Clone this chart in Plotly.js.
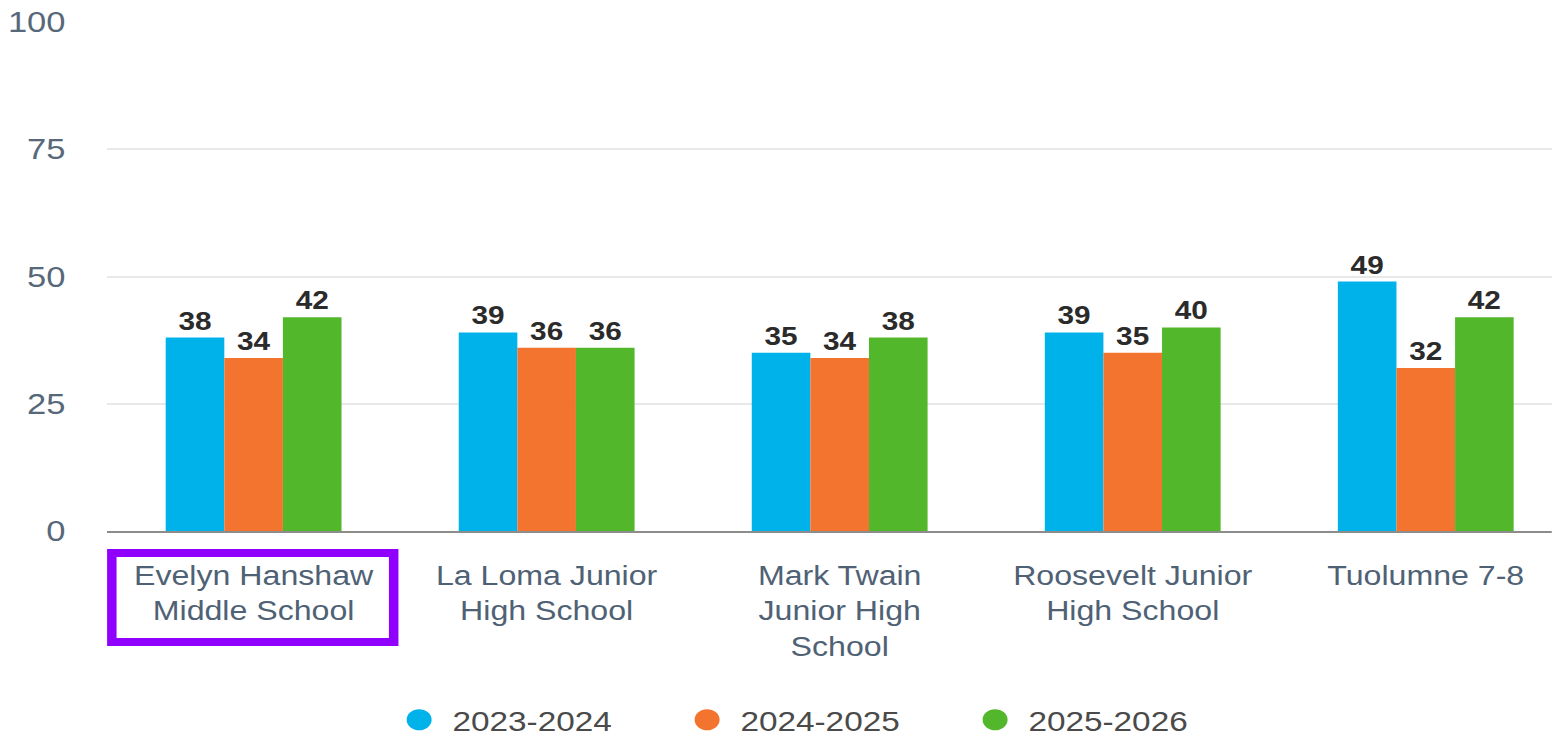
<!DOCTYPE html>
<html>
<head>
<meta charset="utf-8">
<script src="https://cdn.plot.ly/plotly-3.0.1.min.js"></script>
<style>
html,body{margin:0;padding:0;background:#fff;overflow:hidden;}
/* the reference picture is stretched horizontally by about 1.19 */
#chart{width:1304px;height:739px;transform:scaleX(1.19);transform-origin:0 0;}
</style>
</head>
<body>
<div id="chart"></div>
<script>
var categories = [
  "Evelyn Hanshaw<br>Middle School",
  "La Loma Junior<br>High School",
  "Mark Twain<br>Junior High<br>School",
  "Roosevelt Junior<br>High School",
  "Tuolumne 7-8"
];
var seriesNames = ["2023-2024", "2024-2025", "2025-2026"];
var values2023 = [38, 39, 35, 39, 49];
var values2024 = [34, 36, 34, 35, 32];
var values2025 = [42, 36, 38, 40, 42];
var yTicks = [0, 25, 50, 75, 100];

var colors = ["#00b2ea", "#f3742f", "#52b72b"];
var allValues = [values2023, values2024, values2025];
var FONT = '"Liberation Sans", Arial, Helvetica, sans-serif';

var traces = [];
allValues.forEach(function (vals, i) {
  traces.push({
    type: "bar",
    x: categories,
    y: vals,
    name: seriesNames[i],
    marker: {color: colors[i]},
    text: vals.map(String),
    textposition: "outside",
    cliponaxis: false,
    textfont: {family: FONT, size: 25, color: "#2b2b2b", weight: "bold"},
    showlegend: false,
    hoverinfo: "x+y"
  });
});
allValues.forEach(function (vals, i) {
  traces.push({
    type: "scatter",
    mode: "markers",
    x: [categories[0]],
    y: [null],
    name: seriesNames[i],
    marker: {color: colors[i], size: 16, symbol: "circle", line: {color: colors[i], width: 5}},
    showlegend: true,
    hoverinfo: "skip"
  });
});

var layout = {
  width: 1304,
  height: 739,
  margin: {l: 90, r: 0, t: 22, b: 208},
  paper_bgcolor: "#ffffff",
  plot_bgcolor: "#ffffff",
  barmode: "group",
  bargap: 0.4,
  bargroupgap: 0,
  font: {family: FONT, color: "#56687a"},
  xaxis: {
    type: "category",
    range: [-0.5, 4.43],
    showgrid: false,
    showline: true,
    linecolor: "#8c8c8c",
    linewidth: 2,
    ticks: "",
    tickfont: {family: FONT, size: 27, color: "#4f6275"},
    ticklabelstandoff: 20,
    fixedrange: true
  },
  yaxis: {
    range: [0, 100],
    tickvals: yTicks,
    ticktext: yTicks.map(String),
    showgrid: true,
    gridcolor: "#e8e8e8",
    gridwidth: 2,
    zeroline: false,
    showline: false,
    ticks: "",
    tickfont: {family: FONT, size: 29, color: "#56687a"},
    ticklabelstandoff: 34,
    fixedrange: true
  },
  legend: {
    orientation: "h",
    xref: "container",
    yref: "container",
    x: 0.527,
    xanchor: "center",
    y: 0.0257,
    yanchor: "middle",
    font: {family: FONT, size: 28, color: "#4a4a4a"},
    itemwidth: 46,
    entrywidth: 181,
    entrywidthmode: "pixels",
    itemclick: false,
    itemdoubleclick: false
  },
  shapes: [{
    type: "rect",
    xref: "x",
    yref: "paper",
    x0: -0.484,
    x1: 0.478,
    y0: -0.043,
    y1: -0.218,
    line: {color: "#8f00ff", width: 8},
    fillcolor: "rgba(0,0,0,0)"
  }],
  showlegend: true
};

Plotly.newPlot("chart", traces, layout, {displayModeBar: false, staticPlot: true});
</script>
</body>
</html>
